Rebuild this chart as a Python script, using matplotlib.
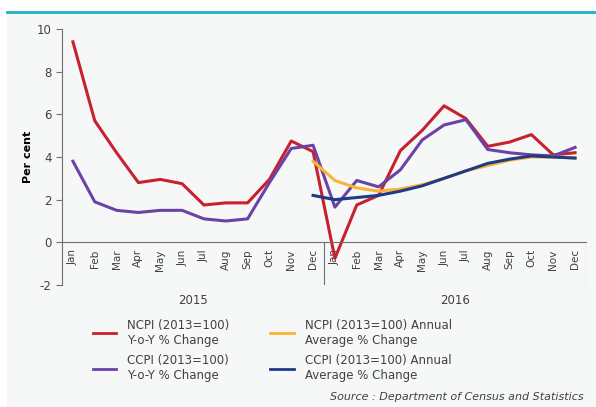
import numpy as np
import matplotlib.pyplot as plt
from matplotlib.lines import Line2D
from matplotlib.patches import Rectangle
import matplotlib.transforms as mtransforms

plt.rcParams["axes.unicode_minus"] = False

months = ["Jan", "Feb", "Mar", "Apr", "May", "Jun",
          "Jul", "Aug", "Sep", "Oct", "Nov", "Dec"]
labels = months + months
years = ["2015", "2016"]

ncpi_yoy = [9.4, 5.7, 4.2, 2.8, 2.95, 2.75, 1.75, 1.85, 1.85, 2.95, 4.75, 4.25,
            -0.75, 1.75, 2.2, 4.3, 5.25, 6.4, 5.8, 4.5, 4.7, 5.05, 4.1, 4.2]
ccpi_yoy = [3.8, 1.9, 1.5, 1.4, 1.5, 1.5, 1.1, 1.0, 1.1, 2.8, 4.4, 4.55,
            1.65, 2.9, 2.6, 3.4, 4.8, 5.5, 5.75, 4.35, 4.2, 4.1, 4.05, 4.45]
# annual averages start at Dec 2015 (index 11)
ncpi_avg = [3.8, 2.9, 2.55, 2.4, 2.5, 2.7, 3.0, 3.35, 3.6, 3.85, 4.0, 4.0, 3.95]
ccpi_avg = [2.2, 2.0, 2.1, 2.2, 2.4, 2.65, 3.0, 3.35, 3.7, 3.9, 4.05, 4.0, 3.95]

red = "#c8202f"
purple = "#6b42a6"
orange = "#fbb436"
navy = "#1f3b86"
grey = "#404040"

fig = plt.figure(figsize=(5.96, 4.07), dpi=100)
fig.patch.set_facecolor("white")
fig.patches.append(Rectangle((7 / 596, 0), 1, 1 - 13 / 407, transform=fig.transFigure,
                             facecolor="#f6f8f8", edgecolor="none", zorder=-5))
fig.add_artist(Line2D([7 / 596, 1], [1 - 12 / 407, 1 - 12 / 407], transform=fig.transFigure,
                      color="#1fb3c6", lw=2))

ax = fig.add_axes([62 / 596, 1 - 285 / 407, (586 - 62) / 596, (285 - 29) / 407])
ax.patch.set_alpha(0)
for s in ["top", "right"]:
    ax.spines[s].set_visible(False)
ax.spines["bottom"].set_position(("data", 0))
ax.spines["bottom"].set_color("#707070")
ax.spines["left"].set_color("#707070")

x = np.arange(len(ncpi_yoy))
xa = np.arange(11, 11 + len(ncpi_avg))
ax.plot(x, ncpi_yoy, color=red, lw=2.2)
ax.plot(x, ccpi_yoy, color=purple, lw=2.2)
ax.plot(xa, ncpi_avg, color=orange, lw=2.2)
ax.plot(xa, ccpi_avg, color=navy, lw=2.2)

ax.set_xlim(-0.5, 23.5)
ax.set_ylim(-2, 10)
ax.set_yticks(range(-2, 11, 2))
ax.set_xticks(x)
ax.set_xticklabels(labels, rotation=90, fontsize=7.5, color=grey)
ax.tick_params(axis="x", length=0, pad=5)
ax.tick_params(axis="y", labelsize=8.5, colors=grey, length=4, direction="out", color="#707070")

ax.vlines([11.5, 23.5], -2, 0, color="#707070", lw=0.8)

trans = mtransforms.blended_transform_factory(ax.transData, ax.transAxes)
for i, yr in enumerate(years):
    ax.text(5.5 + 12 * i, -0.035, yr, transform=trans, ha="center", va="top",
            fontsize=8.5, color=grey)

ax.set_ylabel("Per cent", fontsize=8, fontweight="bold", labelpad=3)

handles = [Line2D([], [], color=red, lw=2), Line2D([], [], color=purple, lw=2),
           Line2D([], [], color=orange, lw=2), Line2D([], [], color=navy, lw=2)]
names = ["NCPI (2013=100)\nY-o-Y % Change", "CCPI (2013=100)\nY-o-Y % Change",
         "NCPI (2013=100) Annual\nAverage % Change", "CCPI (2013=100) Annual\nAverage % Change"]
fig.legend(handles, names, ncol=2, loc="upper left", bbox_to_anchor=(82 / 596, 1 - 308 / 407),
           frameon=False, fontsize=8.5, handlelength=2, columnspacing=3.5,
           labelspacing=0.6, handletextpad=0.9, labelcolor=grey)

fig.text(584 / 596, 1 - 402 / 407, "Source : Department of Census and Statistics",
         ha="right", va="bottom", fontsize=8, style="italic", color=grey)

fig.savefig("out.png", dpi=100)
